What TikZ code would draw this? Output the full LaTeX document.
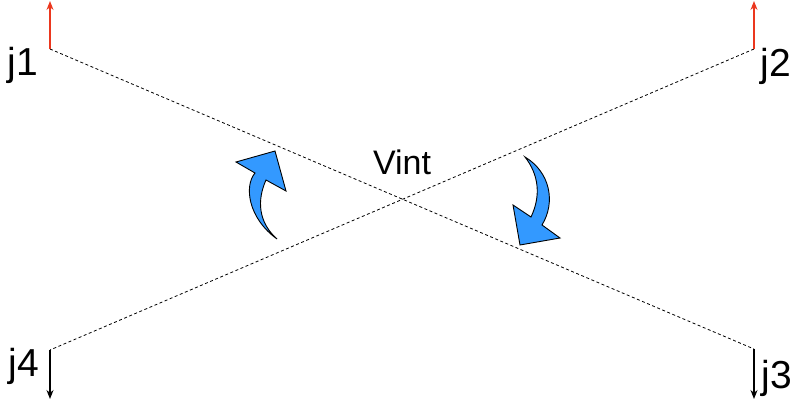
\documentclass[tikz,border=0pt]{standalone}
\usepackage{fontspec}
\setmainfont{Liberation Sans}
\usetikzlibrary{arrows.meta}
\definecolor{arrred}{RGB}{235,55,30}
\definecolor{arrblue}{RGB}{51,153,255}
\tikzset{
  lbl/.style={inner sep=0pt, font=\fontsize{39}{39}\selectfont},
  vlbl/.style={inner sep=0pt, font=\fontsize{34}{34}\selectfont},
  diag/.style={dashed, dash pattern=on 3pt off 2.5pt, line width=0.8pt},
  upvec/.style={arrred, line width=1.3pt, -{Stealth[length=9pt,width=7pt]}},
  downvec/.style={black, line width=1.3pt, -{Stealth[length=9pt,width=7pt]}},
  curvearr/.style={fill=arrblue, draw=black, line width=0.9pt, line join=miter}
}
\begin{document}
\begin{tikzpicture}[x=1pt,y=-1pt]
\useasboundingbox (0,0) rectangle (795,409);
\coordinate (c1) at (50,49);
\coordinate (c2) at (754,49);
\coordinate (c3) at (754,349);
\coordinate (c4) at (50,350);
\coordinate (t1) at (50,1);
\coordinate (t2) at (754,1);
\coordinate (t3) at (754,399);
\coordinate (t4) at (50,399);
\node[lbl] (j1) at (23,65) {j1};
\node[lbl] (j2) at (776,66) {j2};
\node[lbl] (j3) at (777,378) {j3};
\node[lbl] (j4) at (24,366) {j4};
\node[vlbl] (vint) at (402,162) {Vint};
\draw[diag] (c1) -- (c3);
\draw[diag] (c2) -- (c4);
\draw[upvec] (c1) -- (t1);
\draw[upvec] (c2) -- (t2);
\draw[downvec] (c3) -- (t3);
\draw[downvec] (c4) -- (t4);
% left curved arrow
\draw[curvearr] (277,239) .. controls (248,218) and (244,186) .. (255,173)
  -- (236,162) -- (275,151) -- (286,191) -- (266,180)
  .. controls (257,200) and (258,222) .. (277,239) -- cycle;
% right curved arrow
\draw[curvearr] (525,157) .. controls (550,172) and (556,202) .. (542,225)
  -- (560,238) -- (520,245) -- (513,205) -- (531,217)
  .. controls (541,196) and (539,175) .. (525,157) -- cycle;
\end{tikzpicture}
\end{document}
